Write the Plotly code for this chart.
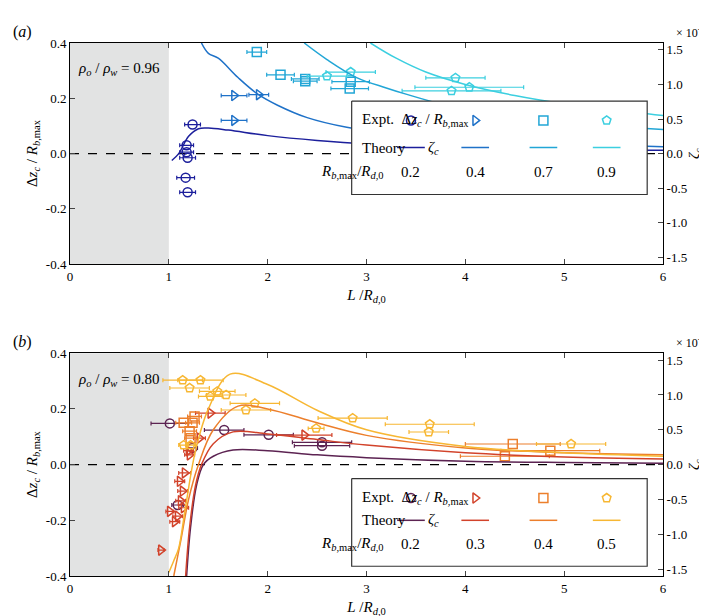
import plotly.graph_objects as go

# ---------- panel (a): rho_o/rho_w = 0.96 ----------
a_ratios = ['0.2', '0.4', '0.7', '0.9']
a_colors = ['#1c1f9c', '#1f72c8', '#22a6d6', '#3ccfe0']
a_symbols = ['circle-open', 'triangle-right-open', 'square-open', 'pentagon-open']

a_expt_x = [
    [1.24, 1.18, 1.18, 1.19, 1.17, 1.19],
    [1.66, 1.91, 1.66],
    [1.89, 2.13, 2.38, 2.38, 2.84, 2.83],
    [2.60, 2.84, 3.90, 4.04, 3.86],
]
a_expt_y = [
    [0.105, 0.03, 0.005, -0.015, -0.087, -0.14],
    [0.21, 0.213, 0.12],
    [0.367, 0.285, 0.27, 0.262, 0.26, 0.235],
    [0.28, 0.295, 0.274, 0.24, 0.227],
]
a_expt_xerr = [
    [0.08, 0.07, 0.07, 0.08, 0.09, 0.08],
    [0.13, 0.1, 0.13],
    [0.1, 0.14, 0.14, 0.12, 0.19, 0.19],
    [0.2, 0.25, 0.3, 0.55, 0.5],
]

# theory curves (zeta_c in units of 1e-2)
a_theory_x = [
    [1.03, 1.1, 1.2, 1.3, 1.4, 1.6, 2.0, 2.5, 3.0, 4.0, 5.0, 6.0],
    [1.33, 1.4, 1.5, 1.7, 1.9, 2.1, 2.4, 2.8, 3.4, 4.0, 5.0, 6.0],
    [2.37, 2.6, 2.9, 3.2, 3.4, 3.8, 4.3, 5.0, 6.0],
    [3.04, 3.3, 3.6, 4.0, 4.5, 5.0, 5.5, 6.0],
]
a_theory_z = [
    [-0.1, 0.0, 0.25, 0.36, 0.37, 0.34, 0.26, 0.19, 0.14, 0.09, 0.06, 0.05],
    [1.6, 1.45, 1.38, 1.1, 0.86, 0.7, 0.52, 0.38, 0.26, 0.2, 0.13, 0.1],
    [1.6, 1.36, 1.1, 0.95, 0.86, 0.7, 0.56, 0.45, 0.35],
    [1.6, 1.38, 1.18, 1.0, 0.84, 0.72, 0.63, 0.55],
]

# ---------- panel (b): rho_o/rho_w = 0.80 ----------
b_ratios = ['0.2', '0.3', '0.4', '0.5']
b_colors = ['#5c2352', '#d2432b', '#ec7f2c', '#f7b733']
b_symbols = a_symbols

b_expt_x = [
    [1.01, 1.56, 2.01, 2.55, 2.55, 1.24, 1.09],
    [0.92, 2.37, 1.42, 1.31, 1.21, 1.16, 1.11, 1.14, 1.12, 1.01, 1.09, 1.06, 1.15, 1.2],
    [1.26, 1.24, 1.21, 1.22, 1.15, 4.48, 4.40, 4.86],
    [1.14, 1.32, 1.21, 1.49, 1.58, 1.42, 1.87, 1.78, 2.86, 2.49, 3.64, 3.63, 5.07, 1.15, 1.22],
]
b_expt_y = [
    [0.148, 0.124, 0.107, 0.08, 0.068, 0.06, -0.145],
    [-0.307, 0.106, 0.185, 0.095, 0.035, -0.03, -0.06, -0.095, -0.13, -0.168, -0.185, -0.205, -0.155, 0.05],
    [0.173, 0.15, 0.12, 0.095, 0.15, 0.074, 0.03, 0.05],
    [0.303, 0.303, 0.275, 0.263, 0.25, 0.245, 0.22, 0.196, 0.167, 0.13, 0.145, 0.117, 0.074, 0.07, 0.07],
]
b_expt_xerr = [
    [0.19, 0.2, 0.25, 0.3, 0.28, 0.05, 0.06],
    [0.03, 0.28, 0.15, 0.06, 0.05, 0.06, 0.05, 0.05, 0.05, 0.04, 0.05, 0.05, 0.05, 0.05],
    [0.07, 0.07, 0.07, 0.06, 0.08, 0.48, 0.45, 0.5],
    [0.2, 0.23, 0.2, 0.18, 0.2, 0.12, 0.25, 0.25, 0.35, 0.08, 0.45, 0.2, 0.35, 0.05, 0.05],
]

b_theory_x = [
    [1.18, 1.22, 1.28, 1.35, 1.45, 1.65, 2.0, 2.5, 3.0, 4.0, 5.0, 6.0],
    [1.17, 1.21, 1.27, 1.33, 1.45, 1.65, 2.0, 2.5, 3.0, 4.0, 5.0, 6.0],
    [1.05, 1.12, 1.2, 1.3, 1.45, 1.7, 2.0, 2.5, 3.0, 4.0, 5.0, 6.0],
    [1.0, 1.05, 1.1, 1.17, 1.27, 1.4, 1.62, 2.0, 2.5, 3.0, 4.0, 5.0, 6.0],
]
b_theory_z = [
    [-1.6, -0.9, -0.3, 0.0, 0.12, 0.21, 0.2, 0.14, 0.1, 0.05, 0.03, 0.02],
    [-1.6, -0.9, -0.3, 0.0, 0.3, 0.47, 0.44, 0.36, 0.28, 0.17, 0.11, 0.08],
    [-1.6, -1.1, -0.5, 0.0, 0.5, 0.84, 0.8, 0.6, 0.42, 0.24, 0.17, 0.14],
    [-1.55, -1.38, -1.2, -0.6, 0.2, 0.8, 1.3, 1.15, 0.78, 0.5, 0.26, 0.17, 0.12],
]

xticks = [0, 1, 2, 3, 4, 5, 6]
yticks = [-0.4, -0.2, 0.0, 0.2, 0.4]
zticks = [-1.5, -1.0, -0.5, 0.0, 0.5, 1.0, 1.5]

FONT = 'Liberation Serif'
fig = go.Figure()


def add_panel(n, ratios, colors, symbols, ex, ey, exerr, tx, tz):
    xa = 'x' if n == 1 else 'x2'
    ya = 'y' if n == 1 else 'y3'
    za = 'y2' if n == 1 else 'y4'
    for i in range(4):
        fig.add_trace(go.Scatter(x=ex[i], y=ey[i], mode='markers',
                                 marker=dict(symbol=symbols[i], color=colors[i], size=9, line=dict(width=1.5)),
                                 error_x=dict(type='data', array=exerr[i], color=colors[i], thickness=1.2, width=2),
                                 xaxis=xa, yaxis=ya, showlegend=False))
    for i in range(4):
        fig.add_trace(go.Scatter(x=tx[i], y=tz[i], mode='lines', line=dict(color=colors[i], width=1.5, shape='spline'),
                                 xaxis=xa, yaxis=za, showlegend=False))
    # legend box, drawn on the overlaying axis (zeta units = 4 * left units) so it covers the curves
    cols = [3.45, 4.1, 4.79, 5.43]
    r1, r2, r3 = (0.12, 0.022, -0.068) if n == 1 else (-0.12, -0.2, -0.285)
    top, bot = (r1 + 0.07) * 4, (r3 - 0.08) * 4
    fig.add_trace(go.Scatter(x=[2.85, 5.84, 5.84, 2.85, 2.85], y=[top, top, bot, bot, top], mode='lines',
                             fill='toself', fillcolor='white', line=dict(color='#333', width=1.2),
                             xaxis=xa, yaxis=za, showlegend=False, hoverinfo='skip'))
    for i in range(4):
        fig.add_trace(go.Scatter(x=[cols[i]], y=[r1 * 4], mode='markers',
                                 marker=dict(symbol=symbols[i], color=colors[i], size=9, line=dict(width=1.5)),
                                 xaxis=xa, yaxis=za, showlegend=False))
        fig.add_trace(go.Scatter(x=[cols[i] - 0.14, cols[i] + 0.14], y=[r2 * 4, r2 * 4], mode='lines',
                                 line=dict(color=colors[i], width=1.5), xaxis=xa, yaxis=za, showlegend=False))
        fig.add_annotation(x=cols[i], y=r3, xref=xa, yref=ya, text=ratios[i], showarrow=False,
                           font=dict(size=15, family=FONT, color='black'))
    fig.add_annotation(x=2.93, y=r1, xref=xa, yref=ya, xanchor='left', showarrow=False,
                       text='Expt.  Δ<i>z<sub>c</sub></i> / <i>R<sub>b</sub></i><sub>,max</sub>',
                       font=dict(size=15, family=FONT, color='black'))
    fig.add_annotation(x=2.93, y=r2, xref=xa, yref=ya, xanchor='left', showarrow=False,
                       text='Theory', font=dict(size=15, family=FONT, color='black'))
    fig.add_annotation(x=3.6, y=r2, xref=xa, yref=ya, xanchor='left', showarrow=False,
                       text='<i>ζ<sub>c</sub></i>', font=dict(size=15, family=FONT, color='black'))
    fig.add_annotation(x=3.2, y=r3, xref=xa, yref=ya, xanchor='right', showarrow=False,
                       text='<i>R<sub>b</sub></i><sub>,max</sub>/<i>R<sub>d</sub></i><sub>,0</sub>',
                       font=dict(size=15, family=FONT, color='black'))
    # shaded region and zero line
    fig.add_shape(type='rect', x0=0, x1=1, y0=0, y1=1, xref=xa, yref=ya + ' domain',
                  fillcolor='#e2e3e3', line_width=0, layer='below')
    fig.add_shape(type='line', x0=0, x1=6, y0=0, y1=0, xref=xa, yref=ya,
                  line=dict(color='black', width=1.3, dash='dash'), layer='below')


add_panel(1, a_ratios, a_colors, a_symbols, a_expt_x, a_expt_y, a_expt_xerr, a_theory_x, a_theory_z)
add_panel(2, b_ratios, b_colors, b_symbols, b_expt_x, b_expt_y, b_expt_xerr, b_theory_x, b_theory_z)

tf = dict(size=13, family=FONT, color='black')
ax = dict(range=[0, 6], tickvals=xticks, ticks='inside', ticklen=5, showline=True, linecolor='black',
          mirror='ticks', showgrid=False, zeroline=False, tickfont=tf)
ay = dict(range=[-0.4, 0.4], tickvals=yticks, ticktext=['-0.4', '-0.2', '0.0', '0.2', '0.4'], ticks='inside',
          ticklen=5, showline=True, linecolor='black', showgrid=False, zeroline=False, tickfont=tf)
az = dict(range=[-1.6, 1.6], tickvals=zticks, ticktext=['-1.5', '-1.0', '-0.5', '0.0', '0.5', '1.0', '1.5'],
          ticks='inside', ticklen=5, side='right', showgrid=False, zeroline=False, showline=True,
          linecolor='black', tickfont=tf)
xt = dict(text='<i>L</i> /<i>R<sub>d</sub></i><sub>,0</sub>', font=dict(size=15, family=FONT, color='black'), standoff=6)
yt = dict(text='Δ<i>z<sub>c</sub></i> / <i>R<sub>b</sub></i><sub>,max</sub>', font=dict(size=15, family=FONT, color='black'), standoff=4)
zt = dict(text='<i>ζ<sub>c</sub></i>', font=dict(size=15, family=FONT, color='black'), standoff=2)

fig.update_layout(
    width=707, height=616, plot_bgcolor='white', paper_bgcolor='white',
    font=dict(family=FONT, color='black'),
    margin=dict(l=62, r=52, t=35, b=48),
    xaxis=dict(ax, domain=[0, 1], anchor='y', title=xt),
    yaxis=dict(ay, domain=[0.585, 1], anchor='x', title=yt),
    yaxis2=dict(az, overlaying='y', anchor='x', title=zt),
    xaxis2=dict(ax, domain=[0, 1], anchor='y3', title=xt),
    yaxis3=dict(ay, domain=[0, 0.418], anchor='x2', title=yt),
    yaxis4=dict(az, overlaying='y3', anchor='x2', title=zt),
)

for yref, txt, lab in [('y domain', '<i>ρ<sub>o</sub></i> / <i>ρ<sub>w</sub></i> = 0.96', '(<i>a</i>)'),
                       ('y3 domain', '<i>ρ<sub>o</sub></i> / <i>ρ<sub>w</sub></i> = 0.80', '(<i>b</i>)')]:
    xr = 'x domain' if yref == 'y domain' else 'x2 domain'
    fig.add_annotation(x=0.01, y=0.93, xref=xr, yref=yref, xanchor='left', showarrow=False, text=txt,
                       font=dict(size=15, family=FONT, color='black'))
    fig.add_annotation(x=-0.1, y=1.1, xref=xr, yref=yref, xanchor='left', showarrow=False, text=lab,
                       font=dict(size=16, family=FONT, color='black'))
    fig.add_annotation(x=1.075, y=1.09, xref=xr, yref=yref, xanchor='right', showarrow=False,
                       text='× 10<sup>-2</sup>', font=dict(size=12, family=FONT, color='black'))

fig.write_html('out.html')
